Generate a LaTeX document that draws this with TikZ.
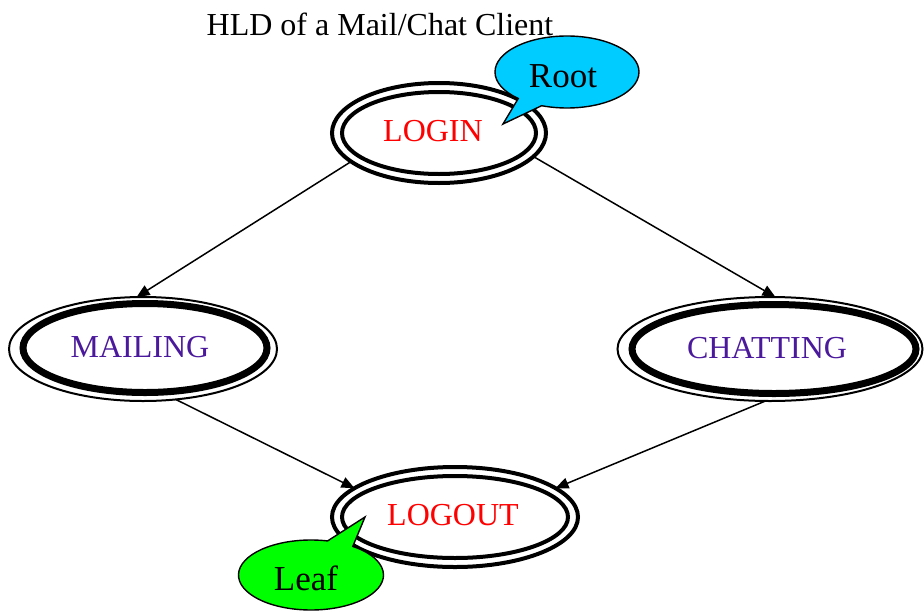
\documentclass[tikz,border=0pt]{standalone}
\usepackage{fontspec}
\setmainfont{Liberation Serif}
\usetikzlibrary{shapes.geometric,shapes.callouts,arrows.meta}
\definecolor{stred}{RGB}{255,0,0}
\definecolor{stpurple}{RGB}{75,25,155}
\definecolor{rootcyan}{RGB}{0,204,255}
\definecolor{leafgreen}{RGB}{0,255,0}
\tikzset{
  ring/.style={ellipse,draw=black,inner sep=0pt,outer sep=0pt},
  thinring/.style={ring,line width=2pt},
  midring/.style={ring,line width=4pt},
  thickring/.style={ring,line width=7pt},
  lbl/.style={anchor=base,inner sep=0pt,font=\fontsize{32}{32}\selectfont},
  blbl/.style={anchor=base,inner sep=0pt,font=\fontsize{35}{35}\selectfont},
  conn/.style={line width=1.5pt,-{Triangle[length=13pt,width=11pt]}},
  bubble/.style={ellipse callout,draw=black,line width=1.4pt,inner sep=0pt,callout pointer arc=22},
}
\begin{document}
\begin{tikzpicture}[x=1pt,y=-1pt]
\useasboundingbox (0,0) rectangle (924,611);
% title
\node[lbl] (title) at (380,35) {HLD of a Mail/Chat Client};
% LOGIN
\node[midring,minimum width=214pt,minimum height=100pt] (login) at (439,133) {};
\node[midring,minimum width=194pt,minimum height=82pt] (logini) at (439,133) {};
\node[lbl,text=stred] (logint) at (433,141) {LOGIN};
% MAILING
\node[thinring,minimum width=268pt,minimum height=104pt] (mailing) at (143,349) {};
\node[thickring,minimum width=244pt,minimum height=89pt] (mailingi) at (145,348) {};
\node[lbl,text=stpurple] (mailingt) at (140,357) {MAILING};
% CHATTING
\node[thinring,minimum width=305pt,minimum height=104pt] (chatting) at (770,349) {};
\node[thickring,minimum width=284pt,minimum height=89pt] (chattingi) at (774,349) {};
\node[lbl,text=stpurple] (chattingt) at (767,358) {CHATTING};
% LOGOUT
\node[midring,minimum width=246pt,minimum height=100pt] (logout) at (455,517) {};
\node[midring,minimum width=226pt,minimum height=82pt] (logouti) at (455,517) {};
\node[lbl,text=stred] (logoutt) at (453,525) {LOGOUT};
% connectors
\draw[conn] (login.198) -- (mailing.97);
\draw[conn] (login.-14) -- (chatting.84);
\draw[conn] (mailing.-57) -- (logout.164);
\draw[conn] (chatting.-95) -- (logout.16);
% bubbles
\coordinate (roottip) at (503,124);
\coordinate (leaftip) at (365,517);
\node[bubble,fill=rootcyan,minimum width=144pt,minimum height=72pt,callout absolute pointer={(roottip)}] (root) at (567,72) {};
\node[blbl] (roott) at (563,87) {Root};
\node[bubble,fill=leafgreen,minimum width=145pt,minimum height=70pt,callout absolute pointer={(leaftip)}] (leaf) at (311,575) {};
\node[blbl] (leaft) at (306,590) {Leaf};
\end{tikzpicture}
\end{document}
